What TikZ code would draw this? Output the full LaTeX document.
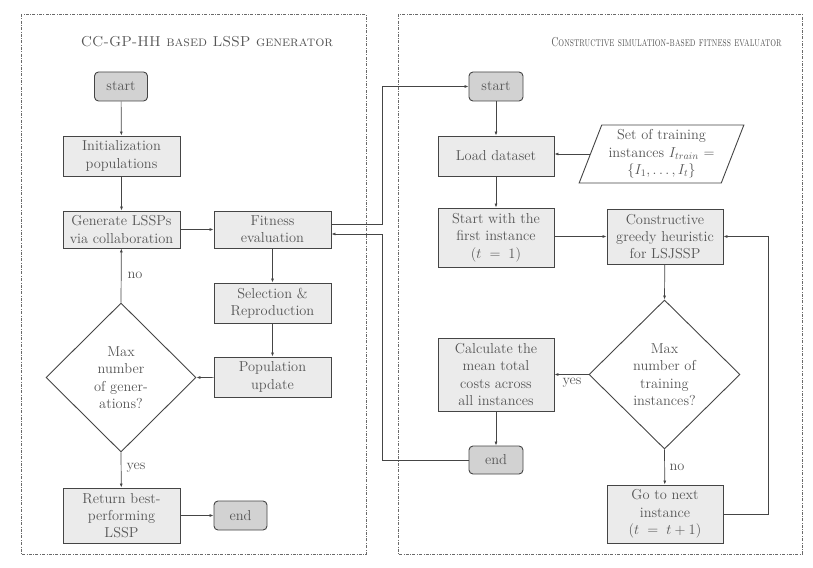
\documentclass[tikz,border=0pt]{standalone}
\usetikzlibrary{shapes.geometric,arrows.meta}
\definecolor{txt}{HTML}{555555}
\definecolor{boxfill}{HTML}{EBEBEB}
\definecolor{termfill}{HTML}{D2D2D2}
\definecolor{linecol}{HTML}{454545}
\definecolor{framecol}{HTML}{6A6A6A}
\tikzset{
  base/.style={draw=linecol, line width=0.9pt, text=txt, inner sep=0pt, align=center,
    font=\fontsize{14.4}{17.3}\selectfont},
  procbox/.style={base, fill=boxfill, minimum width=117pt},
  termbox/.style={base, fill=termfill, rounded corners=4pt, minimum width=53pt, minimum height=29pt},
  decbox/.style={base, diamond, fill=white, minimum width=150pt, minimum height=149pt},
  iobox/.style={base, trapezium, trapezium left angle=67.5, trapezium right angle=112.5,
    trapezium stretches=true, fill=white, minimum width=165pt, minimum height=58pt},
  conn/.style={draw=linecol, line width=0.7pt, -{Latex[length=4pt,width=3pt]}},
  lbl/.style={text=txt, inner sep=0pt, font=\fontsize{14.4}{17.3}\selectfont},
  frame/.style={draw=framecol, line width=0.8pt, dash pattern=on 3pt off 1.5pt on 0.6pt off 1.5pt},
  ttl/.style={text=txt, inner sep=0pt, font=\fontsize{14.4}{17.3}\selectfont}
}
\begin{document}
\begin{tikzpicture}[x=1pt,y=-1pt]
\useasboundingbox (0,0) rectangle (813,567);
% frames
\draw[frame] (21,14) rectangle (366,554);
\draw[frame] (398,14) rectangle (802,554);
\node[ttl] (t1) at (207,42) {\textsc{CC-GP-HH based LSSP generator}};
\node[ttl] (t2) at (666.5,42) {\scalebox{0.632}[0.9]{\textsc{Constructive simulation-based fitness evaluator}}};
% left
\node[termbox] (s1) at (121,86.5) {start};
\node[procbox, minimum height=40pt] (init) at (121.5,156) {Initialization\\populations};
\node[procbox, minimum height=37pt] (gen) at (121.5,229.5) {Generate LSSPs\\via collaboration};
\node[procbox, minimum height=37pt] (fit) at (272.5,229.5) {Fitness\\evaluation};
\node[procbox, minimum height=40pt] (sel) at (272.5,303) {Selection \&\\Reproduction};
\node[procbox, minimum height=40pt] (pop) at (272.5,377) {Population\\update};
\node[decbox] (d1) at (121,377.5) {Max\\number\\of gener-\\ations?};
\node[procbox, minimum height=55pt] (ret) at (121.5,515.5) {Return best-\\performing\\LSSP};
\node[termbox] (e1) at (240.5,515.5) {end};
% right
\node[termbox, minimum width=54pt] (s2) at (496,86.5) {start};
\node[procbox, minimum width=116pt, minimum height=40pt] (load) at (496,156) {Load dataset};
\node[iobox] (io) at (661.5,154) {Set of training\\instances $I_{train}$ =\\$\{I_1,\ldots,I_t\}$};
\node[procbox, minimum width=116pt, minimum height=59pt] (sw) at (496,237.5) {Start with the\\first instance\\$(t\;=\;1)$};
\node[procbox, minimum width=116pt, minimum height=55pt] (con) at (665,236.5) {Constructive\\greedy heuristic\\for LSJSSP};
\node[decbox, minimum width=151pt] (d2) at (664.5,374.5) {Max\\number of\\training\\instances?};
\node[procbox, minimum width=116pt, minimum height=73pt] (calc) at (496,374.5) {Calculate the\\mean total\\costs across\\all instances};
\node[termbox, minimum width=54pt, minimum height=28pt] (e2) at (496,460) {end};
\node[procbox, minimum width=116pt, minimum height=58pt] (nxt) at (665,514) {Go to next\\instance\\$(t\;=\;t+1)$};
\coordinate (o1) at (382,224);
\coordinate (o2) at (382,234);
\coordinate (r1) at (768,514);
% connectors left
\draw[conn] (s1) -- (init);
\draw[conn] (init) -- (gen);
\draw[conn] (gen) -- (fit);
\draw[conn] (fit) -- (sel);
\draw[conn] (sel) -- (pop);
\draw[conn] (pop) -- (d1.east);
\draw[conn] (d1.north) -- (gen);
\draw[conn] (d1.south) -- (ret);
\draw[conn] (ret) -- (e1);
\node[lbl] (lno1) at (135,275) {no};
\node[lbl] (lyes1) at (136,468) {yes};
% cross connectors
\draw[conn] (fit.east |- o1) -- (o1) |- (s2.west);
\draw[conn] (e2.west) -| (o2) -- (fit.east |- o2);
% connectors right
\draw[conn] (s2) -- (load);
\draw[conn] (io.west) -- (io.west -| load.east);
\draw[conn] (load) -- (sw);
\draw[conn] (sw.east |- con.east) -- (con.west);
\draw[conn] (con) -- (d2.north);
\draw[conn] (d2.west) -- (d2.west -| calc.east);
\draw[conn] (calc) -- (e2);
\draw[conn] (d2.south) -- (nxt);
\draw[conn] (nxt.east) -- (r1) |- (con.east);
\node[lbl] (lyes2) at (572,383) {yes};
\node[lbl] (lno2) at (677,467) {no};
\end{tikzpicture}
\end{document}
